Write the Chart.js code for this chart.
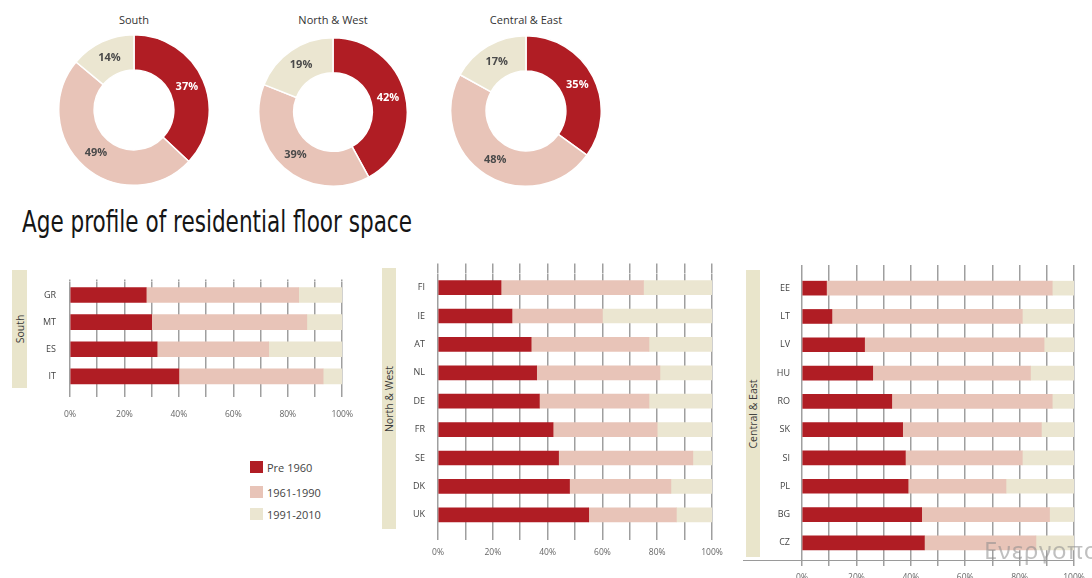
<!DOCTYPE html>
<html>
<head>
<meta charset="utf-8">
<script src="https://cdn.jsdelivr.net/npm/chart.js@4.4.1/dist/chart.umd.min.js"></script>
<style>
  html, body { margin: 0; padding: 0; background: #fff; }
  body { width: 1092px; height: 578px; position: relative; overflow: hidden; font-family: 'Open Sans', 'DejaVu Sans', sans-serif; }
  .abs { position: absolute; }
  .donut-title { position: absolute; width: 160px; text-align: center; font-size: 11px; color: #333; }
  #mainTitle { position: absolute; left: 22px; top: 207px; font-family: 'Liberation Sans Narrow', 'DejaVu Sans Condensed', sans-serif; font-size: 30px; line-height: 30px; color: #151515; white-space: nowrap; transform-origin: left top; }
  .region { position: absolute; background: #e9e5cb; }
  .region span { position: absolute; left: 50%; top: 50%; transform: translate(-50%, -50%) rotate(-90deg); font-size: 10.5px; color: #3a3a3a; white-space: nowrap; }
  .legend-item { position: absolute; left: 250px; height: 13px; font-size: 11px; color: #444; line-height: 13px; white-space: nowrap; }
  .legend-item i { display: inline-block; width: 13px; height: 12px; vertical-align: top; margin-right: 4px; }
  #watermark { position: absolute; left: 984px; top: 533px; font-family: 'Noto Sans', sans-serif; font-size: 24px; letter-spacing: 1px; color: rgba(140, 140, 140, 0.55); white-space: nowrap; }
</style>
</head>
<body>

<div class="donut-title" style="left:54px; top:12px;">South</div>
<div class="donut-title" style="left:253px; top:12px;">North &amp; West</div>
<div class="donut-title" style="left:446px; top:12px;">Central &amp; East</div>

<canvas id="donutSouth" class="abs" width="152" height="152" style="left:58px; top:34px;"></canvas>
<canvas id="donutNorthWest" class="abs" width="150" height="150" style="left:258px; top:37px;"></canvas>
<canvas id="donutCentralEast" class="abs" width="152" height="152" style="left:450px; top:35px;"></canvas>

<div id="mainTitle">Age profile of residential floor space</div>

<div class="region" style="left:12px; top:270px; width:15px; height:118px;"><span>South</span></div>
<div class="region" style="left:382px; top:268px; width:14px; height:261px;"><span>North &amp; West</span></div>
<div class="region" style="left:746px; top:270px; width:14px; height:287px;"><span>Central &amp; East</span></div>

<canvas id="barSouth" class="abs" width="345" height="165" style="left:20px; top:262px;"></canvas>
<canvas id="barNorthWest" class="abs" width="340" height="310" style="left:390px; top:255px;"></canvas>
<canvas id="barCentralEast" class="abs" width="342" height="323" style="left:750px; top:255px;"></canvas>

<div class="abs" style="left:743px; top:560px; width:331px; height:1px; background:#9a9a9a;"></div>

<div id="legend"></div>

<div id="watermark">Ενεργοποίηση των Windows</div>

<script>
// construction periods (legend order = stacking order)
const periods = ['Pre 1960', '1961-1990', '1991-2010'];
const periodColors = ['#b01d24', '#e8c4b8', '#ebe6d1'];

// overall shares per region (%)
const southShares = [37, 49, 14];
const northWestShares = [42, 39, 19];
const centralEastShares = [35, 48, 17];

// South
const southCountries = ['GR', 'MT', 'ES', 'IT'];
const southPre1960 = [28, 30, 32, 40];
const south1961to1990 = [56, 57, 41, 53];
const south1991to2010 = [16, 13, 27, 7];

// North & West
const northWestCountries = ['FI', 'IE', 'AT', 'NL', 'DE', 'FR', 'SE', 'DK', 'UK'];
const northWestPre1960 = [23, 27, 34, 36, 37, 42, 44, 48, 55];
const northWest1961to1990 = [52, 33, 43, 45, 40, 38, 49, 37, 32];
const northWest1991to2010 = [25, 40, 23, 19, 23, 20, 7, 15, 13];

// Central & East
const centralEastCountries = ['EE', 'LT', 'LV', 'HU', 'RO', 'SK', 'SI', 'PL', 'BG', 'CZ'];
const centralEastPre1960 = [9, 11, 23, 26, 33, 37, 38, 39, 44, 45];
const centralEast1961to1990 = [83, 70, 66, 58, 59, 51, 43, 36, 47, 41];
const centralEast1991to2010 = [8, 19, 11, 16, 8, 12, 19, 25, 9, 14];

// x axis: 0..100 %, grid every 10, label every 20
const axisMax = 100;
const gridStep = 10;
const labelStep = 20;

const fontFamily = "'Open Sans', 'DejaVu Sans', sans-serif";
const gridColor = '#9f9f9f';

// percentage labels written on the doughnut rings
const ringLabels = {
    id: 'ringLabels',
    afterDatasetsDraw(chart) {
        const ctx = chart.ctx;
        const meta = chart.getDatasetMeta(0);
        const values = chart.data.datasets[0].data;
        ctx.save();
        ctx.font = 'bold 11px ' + fontFamily;
        ctx.textAlign = 'center';
        ctx.textBaseline = 'middle';
        meta.data.forEach((arc, i) => {
            const p = arc.getProps(['x', 'y', 'startAngle', 'endAngle', 'innerRadius', 'outerRadius'], true);
            const mid = (p.startAngle + p.endAngle) / 2;
            const r = (p.innerRadius + p.outerRadius) / 2;
            ctx.fillStyle = i === 0 ? '#ffffff' : '#4a4a4a';
            ctx.fillText(values[i] + '%', p.x + Math.cos(mid) * r, p.y + Math.sin(mid) * r);
        });
        ctx.restore();
    }
};

function makeDonut(id, shares) {
    return new Chart(document.getElementById(id), {
        type: 'doughnut',
        data: {
            labels: periods,
            datasets: [{
                data: shares,
                backgroundColor: periodColors,
                borderColor: '#ffffff',
                borderWidth: 1.5
            }]
        },
        options: {
            responsive: false,
            animation: false,
            cutout: '53%',
            plugins: { legend: { display: false }, tooltip: { enabled: false } }
        },
        plugins: [ringLabels]
    });
}

function makeBars(id, countries, pre, mid, late, o) {
    const series = [pre, mid, late];
    return new Chart(document.getElementById(id), {
        type: 'bar',
        data: {
            labels: countries,
            datasets: series.map((d, i) => ({
                label: periods[i],
                data: d,
                backgroundColor: periodColors[i],
                borderWidth: 0,
                barThickness: o.bar
            }))
        },
        options: {
            indexAxis: 'y',
            responsive: false,
            animation: false,
            layout: { padding: { top: o.padTop, right: o.padRight, bottom: 0, left: 0 } },
            plugins: { legend: { display: false }, tooltip: { enabled: false } },
            scales: {
                x: {
                    stacked: true,
                    min: 0,
                    max: axisMax,
                    position: 'bottom',
                    ticks: {
                        stepSize: gridStep,
                        autoSkip: false,
                        maxRotation: 0,
                        padding: o.labelPad,
                        color: '#666',
                        font: { family: fontFamily, size: 8.5 },
                        callback: v => (v % labelStep === 0 ? v + '%' : '')
                    },
                    grid: { color: gridColor, lineWidth: 1.5, tickLength: o.tickBottom },
                    border: { display: false },
                    afterFit: s => { s.height = o.xHeight; }
                },
                // only draws the short grid stubs above the first bar
                xTop: {
                    position: 'top',
                    min: 0,
                    max: axisMax,
                    ticks: { display: false, stepSize: gridStep },
                    grid: { drawOnChartArea: false, color: gridColor, lineWidth: 1.5, tickLength: o.tickTop },
                    border: { display: false }
                },
                y: {
                    stacked: true,
                    ticks: { padding: o.catPad, color: '#444', font: { family: fontFamily, size: 9 } },
                    grid: { display: false, drawTicks: false, tickLength: 0 },
                    border: { display: false },
                    afterFit: s => { s.width = o.yWidth; }
                }
            }
        }
    });
}

makeDonut('donutSouth', southShares);
makeDonut('donutNorthWest', northWestShares);
makeDonut('donutCentralEast', centralEastShares);

makeBars('barSouth', southCountries, southPre1960, south1961to1990, south1991to2010,
    { bar: 15, padTop: 10, padRight: 20, tickTop: 2, tickBottom: 7, labelPad: 12, xHeight: 37, yWidth: 50, catPad: 14 });
makeBars('barNorthWest', northWestCountries, northWestPre1960, northWest1961to1990, northWest1991to2010,
    { bar: 14, padTop: 8, padRight: 18, tickTop: 10, tickBottom: 11, labelPad: 7, xHeight: 36, yWidth: 48, catPad: 13 });
makeBars('barCentralEast', centralEastCountries, centralEastPre1960, centralEast1961to1990, centralEast1991to2010,
    { bar: 14, padTop: 10, padRight: 18, tickTop: 9, tickBottom: 9, labelPad: 6, xHeight: 21, yWidth: 52, catPad: 12 });

// legend
const legendTops = [461, 486, 508];
const legend = document.getElementById('legend');
periods.forEach((p, i) => {
    const item = document.createElement('div');
    item.className = 'legend-item';
    item.style.top = legendTops[i] + 'px';
    item.innerHTML = '<i style="background:' + periodColors[i] + '"></i>' + p;
    legend.appendChild(item);
});

// squeeze the heading to the condensed width
const title = document.getElementById('mainTitle');
const w = title.getBoundingClientRect().width;
title.style.transform = 'scaleX(' + (390 / w) + ')';
</script>
</body>
</html>
